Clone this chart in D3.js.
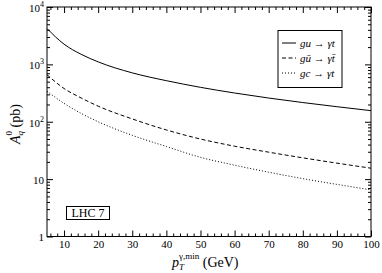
<!DOCTYPE html>
<html>
<head>
<meta charset="utf-8">
<script src="https://cdn.jsdelivr.net/npm/d3@7"></script>
<style>
	body { margin: 0; background: #fff; }
	svg { display: block; }
	svg text { font-family: "Liberation Serif", "Times New Roman", Times, "DejaVu Serif", serif; }
</style>
</head>
<body>
<div id="chart"></div>
<script>
// values (pb)
var ptMin = [5, 10, 15, 20, 30, 40, 50, 60, 70, 80, 90, 100];
var guToT = [4220, 2250, 1500, 1106, 711, 520, 398, 317, 259, 216, 183, 156];
var gubarToTbar = [660, 380, 260, 187, 112, 72, 50, 37.5, 29.5, 23.5, 19, 15.5];
var gcToT = [340, 209, 140, 100, 58, 37, 24, 17.5, 13.2, 10.2, 8.1, 6.5];

var xTicks = [10, 20, 30, 40, 50, 60, 70, 80, 90, 100];
var yTicks = [1, 10, 100, 1000, 10000];

var series = [
	{label: ["gu", " \u2192 ", "\u03b3t"], values: guToT, dash: null},
	{label: ["g\u016b", " \u2192 ", "\u03b3t\u0304"], values: gubarToTbar, dash: "4,2.5"},
	{label: ["gc", " \u2192 ", "\u03b3t"], values: gcToT, dash: "1,2"}
];

var serif = "'Liberation Serif', 'Times New Roman', Times, 'DejaVu Serif', serif";

var width = 382,
	height = 273;

var svg = d3.select("#chart")
	.append("svg")
	.attr("width", width)
	.attr("height", height)
	.attr("font-family", serif);

var x = d3.scaleLinear().domain([5, 100]).range([47, 371]);
var y = d3.scaleLog().domain([1, 10000]).range([236.5, 7]);

// minor ticks
var xMinor = d3.range(6, 100, 2).filter(function (d) { return d % 10 !== 0; });
var yMinor = [];
yTicks.slice(0, -1).forEach(function (p) {
	for (var k = 2; k < 10; k++) yMinor.push(k * p);
});

function styleAxis(g) {
	g.attr("font-family", serif).attr("font-size", 11);
	g.select(".domain").remove();
	g.selectAll("line").attr("stroke", "#000");
	g.selectAll("text").attr("fill", "#000");
}

// bottom
svg.append("g").attr("transform", "translate(0," + y.range()[0] + ")")
	.call(d3.axisBottom(x).tickValues(xTicks).tickSize(-6).tickPadding(4).tickFormat(d3.format("d")))
	.call(styleAxis);
svg.append("g").attr("transform", "translate(0," + y.range()[0] + ")")
	.call(d3.axisBottom(x).tickValues(xMinor).tickSize(-3).tickFormat(""))
	.call(styleAxis);
// top
svg.append("g").attr("transform", "translate(0," + y.range()[1] + ")")
	.call(d3.axisTop(x).tickValues(xTicks).tickSize(-6).tickFormat(""))
	.call(styleAxis);
svg.append("g").attr("transform", "translate(0," + y.range()[1] + ")")
	.call(d3.axisTop(x).tickValues(xMinor).tickSize(-3).tickFormat(""))
	.call(styleAxis);
// left
var yAxisG = svg.append("g").attr("transform", "translate(" + x.range()[0] + ",0)")
	.call(d3.axisLeft(y).tickValues(yTicks).tickSize(-6).tickPadding(3).tickFormat(function (d) { return ""; }))
	.call(styleAxis);
svg.append("g").attr("transform", "translate(" + x.range()[0] + ",0)")
	.call(d3.axisLeft(y).tickValues(yMinor).tickSize(-3).tickFormat(""))
	.call(styleAxis);
// right
svg.append("g").attr("transform", "translate(" + x.range()[1] + ",0)")
	.call(d3.axisRight(y).tickValues(yTicks).tickSize(-6).tickFormat(""))
	.call(styleAxis);
svg.append("g").attr("transform", "translate(" + x.range()[1] + ",0)")
	.call(d3.axisRight(y).tickValues(yMinor).tickSize(-3).tickFormat(""))
	.call(styleAxis);

// y tick labels as powers of ten
yAxisG.selectAll(".tick text").each(function (d) {
	var e = Math.round(Math.log10(d));
	var t = d3.select(this).text(null).attr("dy", "0.4em");
	if (e <= 1) {
		t.text(String(d));
	} else {
		t.append("tspan").text("10");
		t.append("tspan").attr("dy", "-5").attr("font-size", 8).text(e);
	}
});

// frame
svg.append("rect")
	.attr("x", x.range()[0]).attr("y", y.range()[1])
	.attr("width", x.range()[1] - x.range()[0])
	.attr("height", y.range()[0] - y.range()[1])
	.attr("fill", "none").attr("stroke", "#000").attr("stroke-width", 1);

// curves
var line = d3.line()
	.x(function (d) { return x(d[0]); })
	.y(function (d) { return y(d[1]); })
	.curve(d3.curveMonotoneX);

series.forEach(function (s) {
	svg.append("path")
		.datum(d3.zip(ptMin, s.values))
		.attr("d", line)
		.attr("fill", "none")
		.attr("stroke", "#000")
		.attr("stroke-width", 1)
		.attr("stroke-dasharray", s.dash);
});

// legend
var legend = svg.append("g");
legend.append("rect")
	.attr("x", 278).attr("y", 30.5).attr("width", 64).attr("height", 57)
	.attr("fill", "#fff").attr("stroke", "#000");
series.forEach(function (s, i) {
	var ly = 43 + i * 15;
	legend.append("line")
		.attr("x1", 282).attr("x2", 296).attr("y1", ly).attr("y2", ly)
		.attr("stroke", "#000").attr("stroke-dasharray", s.dash);
	var t = legend.append("text")
		.attr("x", 300).attr("y", ly + 3.5)
		.attr("font-size", 11);
	t.append("tspan").attr("font-style", "italic").text(s.label[0]);
	t.append("tspan").text(s.label[1]);
	t.append("tspan").attr("font-style", "italic").text(s.label[2]);
});

// LHC 7 box
svg.append("rect")
	.attr("x", 66.5).attr("y", 206.5).attr("width", 43).attr("height", 13)
	.attr("fill", "#fff").attr("stroke", "#000");
svg.append("text")
	.attr("x", 88).attr("y", 217)
	.attr("text-anchor", "middle")
	.attr("font-size", 12)
	.text("LHC 7");

// x axis label
var xl = svg.append("text").attr("x", 172).attr("y", 267).attr("font-size", 14);
xl.append("tspan").attr("font-style", "italic").text("p");
xl.append("tspan").attr("dy", "2.5").attr("font-size", 9).attr("font-style", "italic").text("T");
xl.append("tspan").attr("dx", "-5").attr("dy", "-11").attr("font-size", 9).text("\u03b3,min");
xl.append("tspan").attr("dy", "8.5").text(" (GeV)");

// y axis label
var yl = svg.append("text")
	.attr("transform", "translate(20,144) rotate(-90)")
	.attr("font-size", 14);
yl.append("tspan").attr("font-style", "italic").text("A");
yl.append("tspan").attr("dy", "3").attr("font-size", 9).attr("font-style", "italic").text("q");
yl.append("tspan").attr("dx", "-4.5").attr("dy", "-11").attr("font-size", 9).text("0");
yl.append("tspan").attr("dy", "8").text(" (pb)");
</script>
</body>
</html>
